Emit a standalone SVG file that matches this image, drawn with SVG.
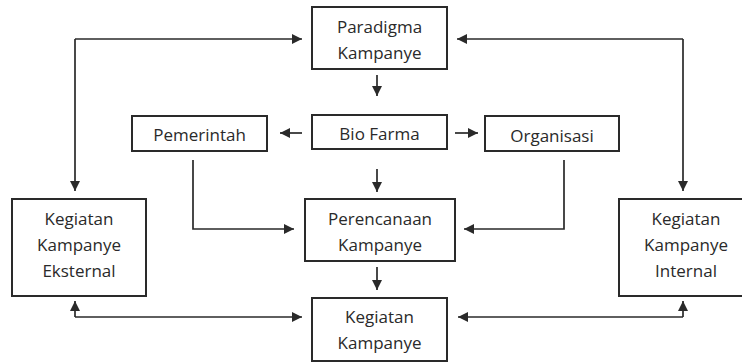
<svg xmlns="http://www.w3.org/2000/svg" width="742" height="363" viewBox="0 0 742 363">
<defs>
<marker id="ah" markerWidth="12" markerHeight="12" refX="10" refY="5.5" orient="auto" markerUnits="userSpaceOnUse">
<path d="M0,0.5 L10,5.5 L0,10.5 Z" fill="#2a2a2a"/>
</marker>
<style>
.box{fill:#fff;stroke:#2a2a2a;stroke-width:2}
.t{font-family:"Open Sans","DejaVu Sans",sans-serif;font-size:17px;fill:#2a2a2a;text-anchor:middle}
.c{fill:none;stroke:#2a2a2a;stroke-width:1.7;marker-end:url(#ah)}
</style>
</defs>
<rect width="742" height="363" fill="#fff"/>
<g id="paradigma"><rect class="box" x="312" y="7" width="135" height="62"/><text class="t" x="379.5" y="33">Paradigma</text><text class="t" x="379.5" y="59">Kampanye</text></g>
<g id="pemerintah"><rect class="box" x="132" y="116" width="135" height="35"/><text class="t" x="199.5" y="141">Pemerintah</text></g>
<g id="biofarma"><rect class="box" x="312" y="115" width="135" height="34"/><text class="t" x="379.5" y="140">Bio Farma</text></g>
<g id="organisasi"><rect class="box" x="485" y="116" width="134" height="35"/><text class="t" x="552" y="142">Organisasi</text></g>
<g id="eksternal"><rect class="box" x="12" y="199" width="134" height="97"/><text class="t" x="79" y="225">Kegiatan</text><text class="t" x="79" y="251">Kampanye</text><text class="t" x="79" y="277">Eksternal</text></g>
<g id="internal"><rect class="box" x="619" y="199" width="134" height="97"/><text class="t" x="686" y="225">Kegiatan</text><text class="t" x="686" y="251">Kampanye</text><text class="t" x="686" y="277">Internal</text></g>
<g id="perencanaan"><rect class="box" x="305" y="199" width="150" height="62"/><text class="t" x="380" y="225">Perencanaan</text><text class="t" x="380" y="251">Kampanye</text></g>
<g id="kegiatan"><rect class="box" x="312" y="298" width="135" height="63"/><text class="t" x="379.5" y="323">Kegiatan</text><text class="t" x="379.5" y="349">Kampanye</text></g>
<g id="connectors">
<path class="c" d="M75,39 H302"/>
<path class="c" d="M75,39 V191"/>
<path class="c" d="M683,39 H457"/>
<path class="c" d="M683,39 V191"/>
<path class="c" d="M377,75 V96"/>
<path class="c" d="M302,133 H280"/>
<path class="c" d="M455,133 H478"/>
<path class="c" d="M377,169 V192"/>
<path class="c" d="M193,160 V229 H294"/>
<path class="c" d="M564,160 V229 H464"/>
<path class="c" d="M377,267 V290"/>
<path class="c" d="M75,317 H302"/>
<path class="c" d="M75,317 V301"/>
<path class="c" d="M683,317 H458"/>
<path class="c" d="M683,317 V301"/>
</g>
</svg>
